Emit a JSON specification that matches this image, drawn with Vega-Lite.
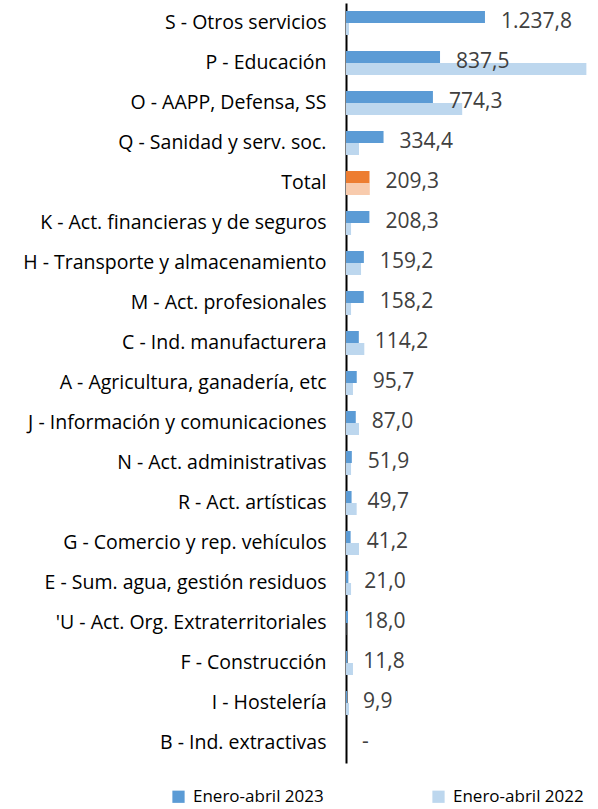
{
  "$schema": "https://vega.github.io/schema/vega-lite/v6.json",
  "autosize": "none",
  "width": 247,
  "height": 760,
  "padding": {"left": 346, "top": 3, "right": 5, "bottom": 46},
  "background": "white",
  "data": {"values": [
    {"cat": "S - Otros servicios", "serie": "Enero-abril 2023", "valor": 1237.8, "etiqueta": "1.237,8"},
    {"cat": "S - Otros servicios", "serie": "Enero-abril 2022", "valor": 27},
    {"cat": "P - Educación", "serie": "Enero-abril 2023", "valor": 837.5, "etiqueta": "837,5"},
    {"cat": "P - Educación", "serie": "Enero-abril 2022", "valor": 2141},
    {"cat": "O - AAPP, Defensa, SS", "serie": "Enero-abril 2023", "valor": 774.3, "etiqueta": "774,3"},
    {"cat": "O - AAPP, Defensa, SS", "serie": "Enero-abril 2022", "valor": 1035},
    {"cat": "Q - Sanidad y serv. soc.", "serie": "Enero-abril 2023", "valor": 334.4, "etiqueta": "334,4"},
    {"cat": "Q - Sanidad y serv. soc.", "serie": "Enero-abril 2022", "valor": 116},
    {"cat": "Total", "serie": "Enero-abril 2023", "valor": 209.3, "etiqueta": "209,3"},
    {"cat": "Total", "serie": "Enero-abril 2022", "valor": 212},
    {"cat": "K - Act. financieras y de seguros", "serie": "Enero-abril 2023", "valor": 208.3, "etiqueta": "208,3"},
    {"cat": "K - Act. financieras y de seguros", "serie": "Enero-abril 2022", "valor": 45},
    {"cat": "H - Transporte y almacenamiento", "serie": "Enero-abril 2023", "valor": 159.2, "etiqueta": "159,2"},
    {"cat": "H - Transporte y almacenamiento", "serie": "Enero-abril 2022", "valor": 134},
    {"cat": "M - Act. profesionales", "serie": "Enero-abril 2023", "valor": 158.2, "etiqueta": "158,2"},
    {"cat": "M - Act. profesionales", "serie": "Enero-abril 2022", "valor": 45},
    {"cat": "C - Ind. manufacturera", "serie": "Enero-abril 2023", "valor": 114.2, "etiqueta": "114,2"},
    {"cat": "C - Ind. manufacturera", "serie": "Enero-abril 2022", "valor": 163},
    {"cat": "A - Agricultura, ganadería, etc", "serie": "Enero-abril 2023", "valor": 95.7, "etiqueta": "95,7"},
    {"cat": "A - Agricultura, ganadería, etc", "serie": "Enero-abril 2022", "valor": 62},
    {"cat": "J - Información y comunicaciones", "serie": "Enero-abril 2023", "valor": 87.0, "etiqueta": "87,0"},
    {"cat": "J - Información y comunicaciones", "serie": "Enero-abril 2022", "valor": 116},
    {"cat": "N - Act. administrativas", "serie": "Enero-abril 2023", "valor": 51.9, "etiqueta": "51,9"},
    {"cat": "N - Act. administrativas", "serie": "Enero-abril 2022", "valor": 45},
    {"cat": "R - Act. artísticas", "serie": "Enero-abril 2023", "valor": 49.7, "etiqueta": "49,7"},
    {"cat": "R - Act. artísticas", "serie": "Enero-abril 2022", "valor": 95},
    {"cat": "G - Comercio y rep. vehículos", "serie": "Enero-abril 2023", "valor": 41.2, "etiqueta": "41,2"},
    {"cat": "G - Comercio y rep. vehículos", "serie": "Enero-abril 2022", "valor": 116},
    {"cat": "E - Sum. agua, gestión residuos", "serie": "Enero-abril 2023", "valor": 21.0, "etiqueta": "21,0"},
    {"cat": "E - Sum. agua, gestión residuos", "serie": "Enero-abril 2022", "valor": 45},
    {"cat": "'U - Act. Org. Extraterritoriales", "serie": "Enero-abril 2023", "valor": 18.0, "etiqueta": "18,0"},
    {"cat": "'U - Act. Org. Extraterritoriales", "serie": "Enero-abril 2022", "valor": 2},
    {"cat": "F - Construcción", "serie": "Enero-abril 2023", "valor": 11.8, "etiqueta": "11,8"},
    {"cat": "F - Construcción", "serie": "Enero-abril 2022", "valor": 62},
    {"cat": "I - Hostelería", "serie": "Enero-abril 2023", "valor": 9.9, "etiqueta": "9,9"},
    {"cat": "I - Hostelería", "serie": "Enero-abril 2022", "valor": 27},
    {"cat": "B - Ind. extractivas", "serie": "Enero-abril 2023", "valor": 0, "etiqueta": "-"},
    {"cat": "B - Ind. extractivas", "serie": "Enero-abril 2022", "valor": 0}
  ]},
  "encoding": {
    "y": {
      "field": "cat", "type": "nominal", "sort": null,
      "scale": {"paddingInner": 0.4, "paddingOuter": 0.2},
      "axis": {"title": null, "ticks": false, "labelPadding": 20, "labelFont": "Open Sans", "labelFontSize": 19.5, "labelColor": "#000000", "labelLimit": 400, "domainColor": "#000000", "domainWidth": 2, "grid": false}
    },
    "x": {
      "field": "valor", "type": "quantitative",
      "scale": {"domain": [0, 2200], "nice": false},
      "axis": null
    }
  },
  "layer": [
    {
      "mark": {"type": "bar"},
      "encoding": {
        "yOffset": {"field": "serie", "type": "nominal", "sort": ["Enero-abril 2023", "Enero-abril 2022"], "scale": {"paddingInner": 0, "paddingOuter": 0}},
        "color": {
          "field": "serie", "type": "nominal",
          "scale": {"domain": ["Enero-abril 2023", "Enero-abril 2022"], "range": ["#5B9BD5", "#BDD7EE"]},
          "legend": {"title": null, "orient": "none", "direction": "horizontal", "legendX": -176, "legendY": 785, "symbolType": "square", "symbolSize": 150, "symbolStrokeWidth": 0, "labelFont": "Open Sans", "labelFontSize": 17, "labelColor": "#000000", "columnPadding": 106, "labelOffset": 6},
          "condition": [
            {"test": "datum.cat === 'Total' && datum.serie === 'Enero-abril 2023'", "value": "#ED7D31"},
            {"test": "datum.cat === 'Total' && datum.serie === 'Enero-abril 2022'", "value": "#F8CBAD"}
          ]
        }
      }
    },
    {
      "transform": [{"filter": "datum.serie === 'Enero-abril 2023'"}],
      "mark": {"type": "text", "align": "left", "baseline": "middle", "dx": 16, "dy": -1, "font": "Open Sans", "fontSize": 21, "color": "#404040"},
      "encoding": {"text": {"field": "etiqueta"}}
    }
  ],
  "config": {"view": {"stroke": null}}
}
